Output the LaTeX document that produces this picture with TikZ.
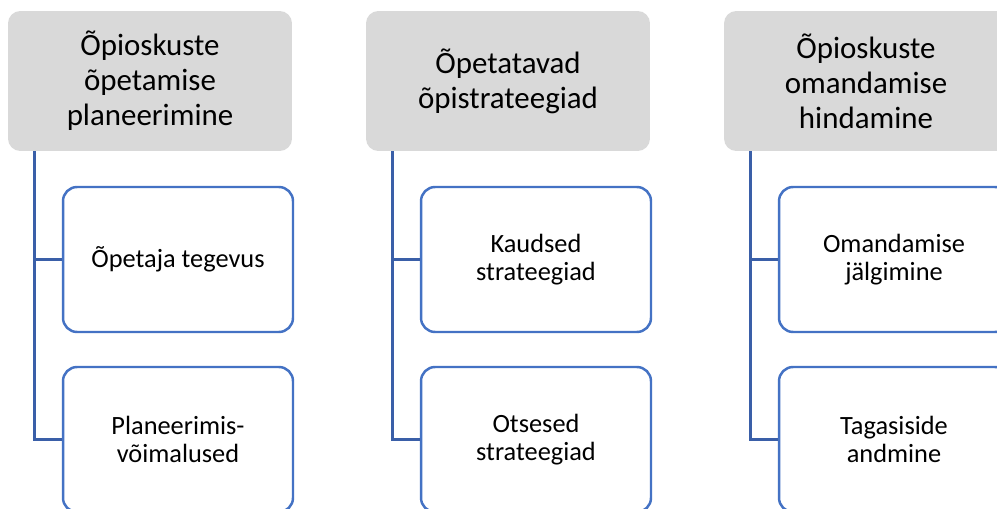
\documentclass[tikz,border=0pt]{standalone}
\usepackage{fontspec}
\setmainfont{Carlito}
\definecolor{headgray}{HTML}{D9D9D9}
\definecolor{boxblue}{HTML}{4472C4}
\definecolor{linkblue}{HTML}{3A5FA8}
\tikzset{
  head/.style={fill=headgray, rounded corners=7pt, minimum width=5.68cm,
    minimum height=2.8cm, align=center, font=\fontsize{17.6}{19.9}\selectfont},
  leaf/.style={draw=boxblue, line width=1.4pt, fill=white, rounded corners=8pt,
    minimum width=4.6cm, minimum height=2.9cm, align=center,
    font=\fontsize{15}{16.3}\selectfont},
  link/.style={draw=linkblue, line width=1.6pt}
}
\begin{document}
\begin{tikzpicture}[x=0.02cm, y=-0.02cm]
  \path[use as bounding box, clip] (0, 0) rectangle (997, 509);
  \fill[white] (0, 0) rectangle (997, 509);
  % headers
  \node[head] (h1) at (150, 81) {Õpioskuste\\õpetamise\\planeerimine};
  \node[head] (h2) at (508, 81) {Õpetatavad\\õpistrateegiad};
  \node[head] (h3) at (866, 81) {Õpioskuste\\omandamise\\hindamine};
  % children
  \node[leaf] (c11) at (178, 259.5) {Õpetaja tegevus};
  \node[leaf] (c12) at (178, 439.5) {Planeerimis-\\võimalused};
  \node[leaf] (c21) at (536, 259.5) {Kaudsed\\strateegiad};
  \node[leaf] (c22) at (536, 439.5) {Otsesed\\strateegiad};
  \node[leaf] (c31) at (894, 259.5) {Omandamise\\jälgimine};
  \node[leaf] (c32) at (894, 439.5) {Tagasiside\\andmine};
  % connectors
  \foreach \h/\a/\b in {h1/c11/c12, h2/c21/c22, h3/c31/c32} {
    \coordinate (t\h) at ([xshift=0.54cm]\h.south west);
    \draw[link] (t\h) |- (\a.west);
    \draw[link] (t\h) |- (\b.west);
  }
\end{tikzpicture}
\end{document}
